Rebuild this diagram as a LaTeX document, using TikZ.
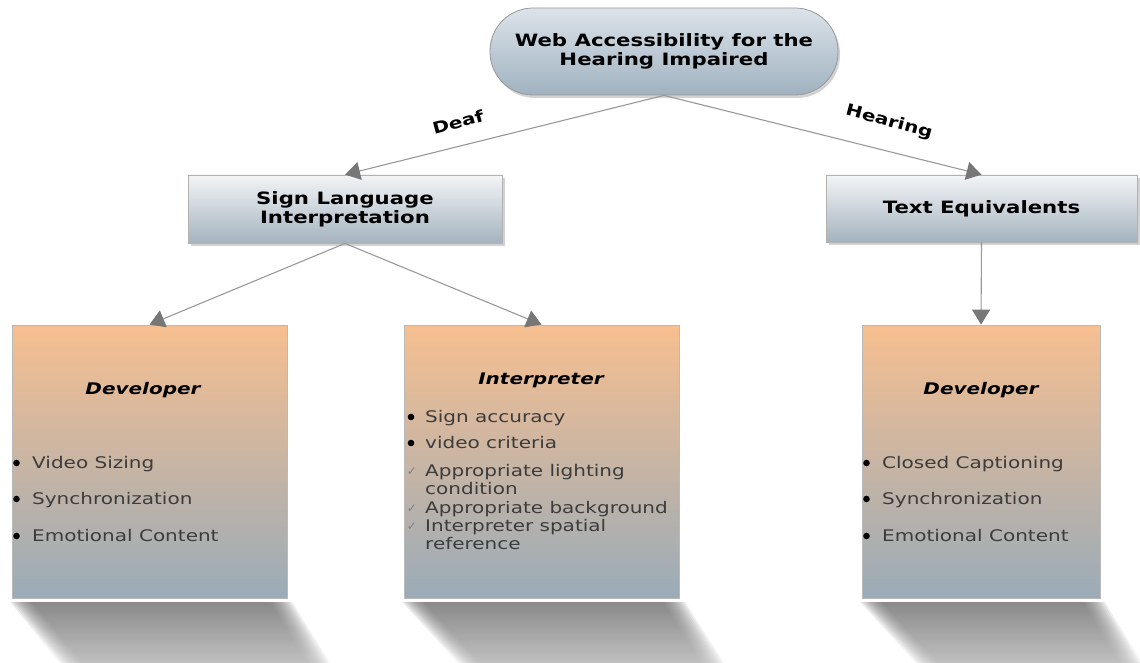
\documentclass[tikz,border=0pt]{standalone}
\usepackage{fontspec}
\setmainfont{DejaVu Sans}[FakeStretch=1.25]
\newfontfamily\chkfont{DejaVu Sans}
\usetikzlibrary{arrows.meta,shadows,calc}
\definecolor{rootT}{HTML}{DCE3EA}
\definecolor{rootB}{HTML}{A0B2C0}
\definecolor{boxT}{HTML}{F3F5F7}
\definecolor{boxB}{HTML}{A5B3BE}
\definecolor{orT}{HTML}{F7BF90}
\definecolor{orB}{HTML}{9AABB8}
\definecolor{edgeC}{HTML}{999999}
\definecolor{tipC}{HTML}{777777}
\definecolor{itemC}{HTML}{3C3C3C}
\definecolor{shT}{HTML}{6E6E6E}
\definecolor{shB}{HTML}{B4B4B4}
\begin{document}
\begin{tikzpicture}[x=1pt,y=-1pt,
  rootnode/.style={draw=gray!80, line width=0.8pt, top color=rootT, bottom color=rootB,
    rounded corners=43pt, minimum width=348pt, minimum height=87pt, align=center,
    font=\fontsize{17}{19}\selectfont\bfseries, text=black,
    drop shadow={opacity=0.35, shadow xshift=2pt, shadow yshift=-3pt}},
  midbox/.style={draw=gray!60, line width=0.8pt, top color=boxT, bottom color=boxB,
    align=center, font=\fontsize{17}{19}\selectfont\bfseries, text=black,
    drop shadow={opacity=0.35, shadow xshift=3pt, shadow yshift=-3pt}},
  leafbox/.style={draw=gray!55, line width=0.8pt, top color=orT, bottom color=orB,
    minimum height=273pt},
  arr/.style={draw=edgeC, line width=1.1pt, -{Triangle[width=18pt,length=15pt,fill=tipC,color=tipC]}},
  elabel/.style={font=\fontsize{16}{18}\selectfont\bfseries, text=black},
  ltitle/.style={font=\fontsize{16}{18}\selectfont\bfseries\itshape, text=black, anchor=base},
  item/.style={font=\fontsize{16}{19}\selectfont, text=itemC, anchor=base west, inner sep=0pt},
  chk/.style={text=gray, font=\chkfont\fontsize{12}{12}\selectfont, inner sep=0pt},
  shadowlayer/.style={top color=shT, bottom color=shB, draw=none, fill opacity=0.12, opacity=0.12}
]
\useasboundingbox (0,0) rectangle (1140,663);
\fill[white] (0,0) rectangle (1140,663);

% soft bottom shadows (layered)
\foreach \L/\R/\LL/\RR in {10/292/60/330, 402/685/458/724, 860/1105/916/1142}{
  \foreach \d in {0,2,...,22}{
    \shade[shadowlayer] (\L+\d,602) -- (\R-\d,602) -- (\RR-\d,663) -- (\LL+\d,663) -- cycle;
  }
}

% nodes
\node[rootnode] (root) at (664,51.5) {Web Accessibility for the\\Hearing Impaired};
\node[midbox, minimum width=314pt, minimum height=68pt] (sign) at (345,209) {Sign Language\\Interpretation};
\node[midbox, minimum width=311pt, minimum height=67pt] (te) at (981.5,208.5) {Text Equivalents};
\node[leafbox, minimum width=275pt] (dev1) at (149.5,461.5) {};
\node[leafbox, minimum width=275pt] (interp) at (541.5,461.5) {};
\node[leafbox, minimum width=238pt] (dev3) at (981,461.5) {};

% connectors
\draw[arr] (root.south) -- (sign.north);
\draw[arr] (root.south) -- (te.north);
\draw[arr] (sign.south) -- (dev1.north);
\draw[arr] (sign.south) -- (interp.north);
\draw[arr] (te.south) -- (dev3.north);

% edge labels
\node[elabel, rotate=15] (deaf) at (458,122) {Deaf};
\node[elabel, rotate=-15] (hearing) at (889,122) {Hearing};

% Developer (left)
\node[ltitle] (d1t) at (143,394) {Developer};
\node[item] (d1a) at (32,468) {Video Sizing};
\node[item] (d1b) at (32,504) {Synchronization};
\node[item] (d1c) at (32,541) {Emotional Content};
\foreach \n in {d1a,d1b,d1c} \fill ([xshift=-15.5pt,yshift=5pt]\n.base west) circle (3.3);

% Interpreter
\node[ltitle] (it) at (541,384) {Interpreter};
\node[item] (ia) at (425,422) {Sign accuracy};
\node[item] (ib) at (425,448) {video criteria};
\node[item] (ic) at (425,476) {Appropriate lighting};
\node[item] (ic2) at (425,494) {condition};
\node[item] (id) at (425,513) {Appropriate background};
\node[item] (ie) at (425,531) {Interpreter spatial};
\node[item] (ie2) at (425,549) {reference};
\foreach \n in {ia,ib} \fill ([xshift=-14pt,yshift=5pt]\n.base west) circle (3.3);
\foreach \n in {ic,id,ie} \node[chk] at ([xshift=-13pt,yshift=4pt]\n.base west) {✓};

% Developer (right)
\node[ltitle] (d3t) at (981,394) {Developer};
\node[item] (d3a) at (882,468) {Closed Captioning};
\node[item] (d3b) at (882,504) {Synchronization};
\node[item] (d3c) at (882,541) {Emotional Content};
\foreach \n in {d3a,d3b,d3c} \fill ([xshift=-15.5pt,yshift=5pt]\n.base west) circle (3.3);
\end{tikzpicture}
\end{document}
